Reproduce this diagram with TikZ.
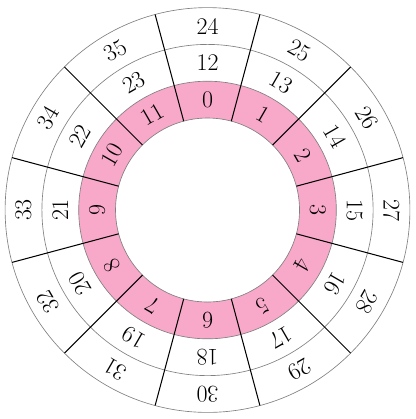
\documentclass[tikz,border=0pt]{standalone}
\usepackage{tikz}
\definecolor{ringpink}{RGB}{248,168,200}
\tikzset{
  ringcircle/.style={draw=gray, line width=0.5pt},
  divider/.style={draw=black, line width=0.8pt},
  num/.style={font=\fontsize{18.5}{22}\selectfont, inner sep=0pt}
}
\begin{document}
\begin{tikzpicture}
\useasboundingbox (-5.639,-5.679) rectangle (5.639,5.707);
\fill[ringpink, even odd rule] (0,0) circle (3.5) (0,0) circle (2.5);
\foreach \r in {2.5,3.5,4.5,5.5} \draw[ringcircle] (0,0) circle (\r);
\foreach \k in {0,...,11} {
  \draw[divider] ({15+30*\k}:2.5) -- ({15+30*\k}:5.5);
}
\foreach \k in {0,...,11} {
  \pgfmathtruncatemacro{\a}{\k}
  \pgfmathtruncatemacro{\b}{\k+12}
  \pgfmathtruncatemacro{\c}{\k+24}
  \node[num, rotate={-30*\k}] (in\k) at ({90-30*\k}:3) {\a};
  \node[num, rotate={-30*\k}] (mid\k) at ({90-30*\k}:4) {\b};
  \node[num, rotate={-30*\k}] (out\k) at ({90-30*\k}:5) {\c};
}
\end{tikzpicture}
\end{document}
